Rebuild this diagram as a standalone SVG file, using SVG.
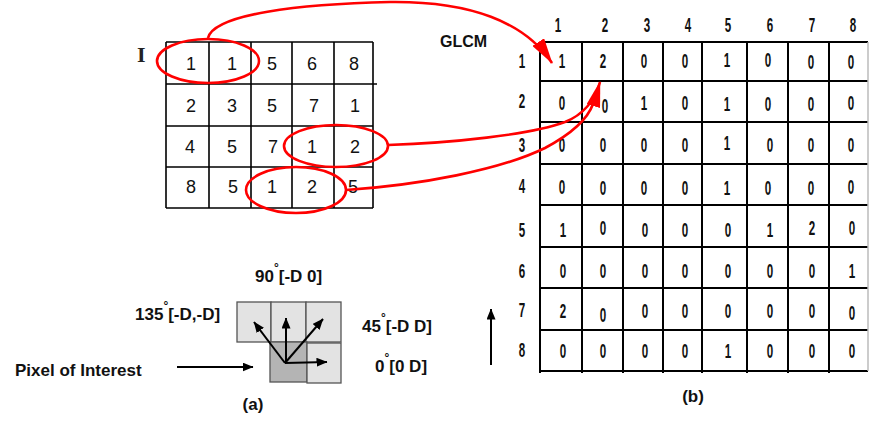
<svg xmlns="http://www.w3.org/2000/svg" width="870" height="423" viewBox="0 0 870 423">
<style>
.grid{stroke:#000;stroke-width:1.6;fill:none}
.grid2{stroke:#000;stroke-width:2;fill:none}
.dl{font-family:"Liberation Sans",Arial,sans-serif;font-size:18px;fill:#111;text-anchor:middle}
.dc{font-family:"Liberation Sans",Arial,sans-serif;font-size:20px;font-weight:bold;fill:#111;text-anchor:middle}
.lbl{font-family:"Liberation Sans",Arial,sans-serif;font-size:17px;font-weight:bold;fill:#111}
.deg{font-size:12px}
.red{stroke:#ff0000;stroke-width:2.6;fill:none}
.blk{stroke:#000;stroke-width:2;fill:none}
.lt{fill:#e3e3e3;stroke:#555;stroke-width:1.3}
.dk{fill:#b4b4b4;stroke:#555;stroke-width:1.3}
</style>
<defs>
<marker id="rh" markerUnits="userSpaceOnUse" markerWidth="26" markerHeight="14" viewBox="0 0 26 14" refX="25" refY="7" orient="auto">
<path d="M0,0 L26,7 L0,14 z" fill="#ff0000"/>
</marker>
<marker id="bh" markerUnits="userSpaceOnUse" markerWidth="11" markerHeight="9" viewBox="0 0 11 9" refX="10.5" refY="4.5" orient="auto">
<path d="M0,0 L11,4.5 L0,9 z" fill="#000"/>
</marker>
</defs>
<rect width="870" height="423" fill="#fff"/>

<g id="matrix-I">
<text x="137" y="62" font-family="'Liberation Serif',serif" font-weight="bold" font-size="22" fill="#222">I</text>
<path class="grid" d="M166,42H373M166,84H377M166,126H373M166,167H373M166,208H373M166,42V208M209,42V208M251,42V208M292,42V208M334,42V208M373,42V208"/>
<text class="dl" x="191" y="70">1</text><text class="dl" x="232" y="70">1</text><text class="dl" x="272" y="70">5</text><text class="dl" x="312" y="70">6</text><text class="dl" x="354" y="70">8</text>
<text class="dl" x="191" y="112">2</text><text class="dl" x="232" y="112">3</text><text class="dl" x="272" y="112">5</text><text class="dl" x="314" y="112">7</text><text class="dl" x="355" y="112">1</text>
<text class="dl" x="190" y="153">4</text><text class="dl" x="232" y="153">5</text><text class="dl" x="273" y="153">7</text><text class="dl" x="312" y="153">1</text><text class="dl" x="355" y="153">2</text>
<text class="dl" x="191" y="193">8</text><text class="dl" x="233" y="193">5</text><text class="dl" x="272" y="193">1</text><text class="dl" x="312" y="193">2</text><text class="dl" x="353" y="193">5</text>
</g>

<g id="glcm">
<text x="440" y="47" font-family="'Liberation Sans',Arial,sans-serif" font-size="16" font-weight="bold" fill="#111">GLCM</text>
<path class="grid2" d="M540,42H868M540,81H868M540,122H868M540,164H868M540,205H868M540,247H868M540,288H868M540,330H868M540,371H868M540,42V373M582,42V373M623,42V373M663,42V373M702,42V373M747,42V373M788,42V373M829,42V373"/>
<path d="M868,42V371" stroke="#bbb" stroke-width="1.5"/>
<g transform="scale(0.58 1)">
<text class="dc" x="962.1" y="32">1</text><text class="dc" x="1043.1" y="32">2</text><text class="dc" x="1115.5" y="32">3</text><text class="dc" x="1186.2" y="32">4</text><text class="dc" x="1255.2" y="32">5</text><text class="dc" x="1327.6" y="32">6</text><text class="dc" x="1400" y="32">7</text><text class="dc" x="1470.7" y="32">8</text>
<text class="dc" x="900" y="68">1</text><text class="dc" x="900" y="108">2</text><text class="dc" x="900" y="152">3</text><text class="dc" x="900" y="193">4</text><text class="dc" x="900" y="237">5</text><text class="dc" x="900" y="278">6</text><text class="dc" x="900" y="317">7</text><text class="dc" x="900" y="357">8</text>
<text class="dc" x="969" y="68">1</text><text class="dc" x="1039.7" y="68">2</text><text class="dc" x="1110.3" y="68">0</text><text class="dc" x="1181" y="68">0</text><text class="dc" x="1253.4" y="67">1</text><text class="dc" x="1324.1" y="67">0</text><text class="dc" x="1398.3" y="69">0</text><text class="dc" x="1467.2" y="69">0</text>
<text class="dc" x="969" y="110">0</text><text class="dc" x="1043.1" y="113">0</text><text class="dc" x="1110.3" y="110">1</text><text class="dc" x="1181" y="110">0</text><text class="dc" x="1253.4" y="111">1</text><text class="dc" x="1324.1" y="111">0</text><text class="dc" x="1398.3" y="111">0</text><text class="dc" x="1467.2" y="110">0</text>
<text class="dc" x="969" y="152">0</text><text class="dc" x="1039.7" y="152">0</text><text class="dc" x="1110.3" y="152">0</text><text class="dc" x="1181" y="152">0</text><text class="dc" x="1253.4" y="150">1</text><text class="dc" x="1327.6" y="152">0</text><text class="dc" x="1398.3" y="152">0</text><text class="dc" x="1467.2" y="152">0</text>
<text class="dc" x="969" y="194">0</text><text class="dc" x="1039.7" y="195">0</text><text class="dc" x="1110.3" y="195">0</text><text class="dc" x="1181" y="195">0</text><text class="dc" x="1253.4" y="195">1</text><text class="dc" x="1324.1" y="195">0</text><text class="dc" x="1398.3" y="195">0</text><text class="dc" x="1467.2" y="194">0</text>
<text class="dc" x="970.7" y="237">1</text><text class="dc" x="1039.7" y="235">0</text><text class="dc" x="1112.1" y="237">0</text><text class="dc" x="1181" y="237">0</text><text class="dc" x="1255.2" y="237">0</text><text class="dc" x="1327.6" y="237">1</text><text class="dc" x="1400" y="235">2</text><text class="dc" x="1469" y="235">0</text>
<text class="dc" x="970.7" y="278">0</text><text class="dc" x="1039.7" y="278">0</text><text class="dc" x="1112.1" y="278">0</text><text class="dc" x="1181" y="278">0</text><text class="dc" x="1255.2" y="278">0</text><text class="dc" x="1327.6" y="278">0</text><text class="dc" x="1400" y="278">0</text><text class="dc" x="1469" y="278">1</text>
<text class="dc" x="970.7" y="318">2</text><text class="dc" x="1039.7" y="322">0</text><text class="dc" x="1112.1" y="318">0</text><text class="dc" x="1181" y="318">0</text><text class="dc" x="1255.2" y="318">0</text><text class="dc" x="1327.6" y="318">0</text><text class="dc" x="1400" y="318">0</text><text class="dc" x="1469" y="320">0</text>
<text class="dc" x="970.7" y="358">0</text><text class="dc" x="1039.7" y="358">0</text><text class="dc" x="1112.1" y="358">0</text><text class="dc" x="1181" y="358">0</text><text class="dc" x="1255.2" y="358">1</text><text class="dc" x="1327.6" y="358">0</text><text class="dc" x="1400" y="358">0</text><text class="dc" x="1469" y="358">0</text>
</g>
<text x="693" y="402" text-anchor="middle" class="lbl" font-size="16">(b)</text>
</g>

<g id="highlights">
<ellipse class="red" cx="208" cy="61" rx="51" ry="22"/>
<ellipse class="red" cx="336" cy="146" rx="52" ry="21"/>
<ellipse class="red" cx="296" cy="190" rx="50" ry="23"/>
</g>

<g id="connectors">
<path class="red" d="M208,38 C214,14 300,4 390,2 C470,1 525,22 552,63" marker-end="url(#rh)"/>
<path class="red" d="M388,145 C450,143 530,135 565,122 C585,114 595,100 600,82" marker-end="url(#rh)"/>
<path class="red" d="M346,190 C420,185 500,170 545,148 C575,132 588,118 593,104"/>
<path class="blk" stroke-width="1.5" d="M177,367 H253" marker-end="url(#bh)"/>
<path class="blk" stroke-width="1.5" d="M491,365 V309" marker-end="url(#bh)"/>
</g>

<g id="directions">
<rect class="lt" x="237" y="302" width="34" height="40"/>
<rect class="lt" x="271" y="302" width="35" height="40"/>
<rect class="lt" x="306" y="302" width="35" height="40"/>
<rect class="dk" x="270" y="342" width="37" height="40"/>
<rect class="lt" x="307" y="343" width="34" height="40"/>
<path class="blk" d="M285,363 L254,322" marker-end="url(#bh)"/>
<path class="blk" stroke-width="1.5" d="M286,363 L286,318" marker-end="url(#bh)"/>
<path class="blk" d="M285,363 L323,319" marker-end="url(#bh)"/>
<path class="blk" stroke-width="1.5" d="M285,363 L327,362" marker-end="url(#bh)"/>
<text class="lbl" x="255" y="282">90<tspan class="deg" dy="-10">°</tspan><tspan dy="10">[-D 0]</tspan></text>
<text class="lbl" x="135" y="320">135<tspan class="deg" dy="-10">°</tspan><tspan dy="10">[-D,-D]</tspan></text>
<text class="lbl" x="362" y="332">45<tspan class="deg" dy="-10">°</tspan><tspan dy="10">[-D D]</tspan></text>
<text class="lbl" x="375" y="372">0<tspan class="deg" dy="-10">°</tspan><tspan dy="10">[0 D]</tspan></text>
<text class="lbl" x="15" y="376">Pixel of Interest</text>
<text class="lbl" x="253" y="410" text-anchor="middle" font-size="16">(a)</text>
</g>
</svg>
